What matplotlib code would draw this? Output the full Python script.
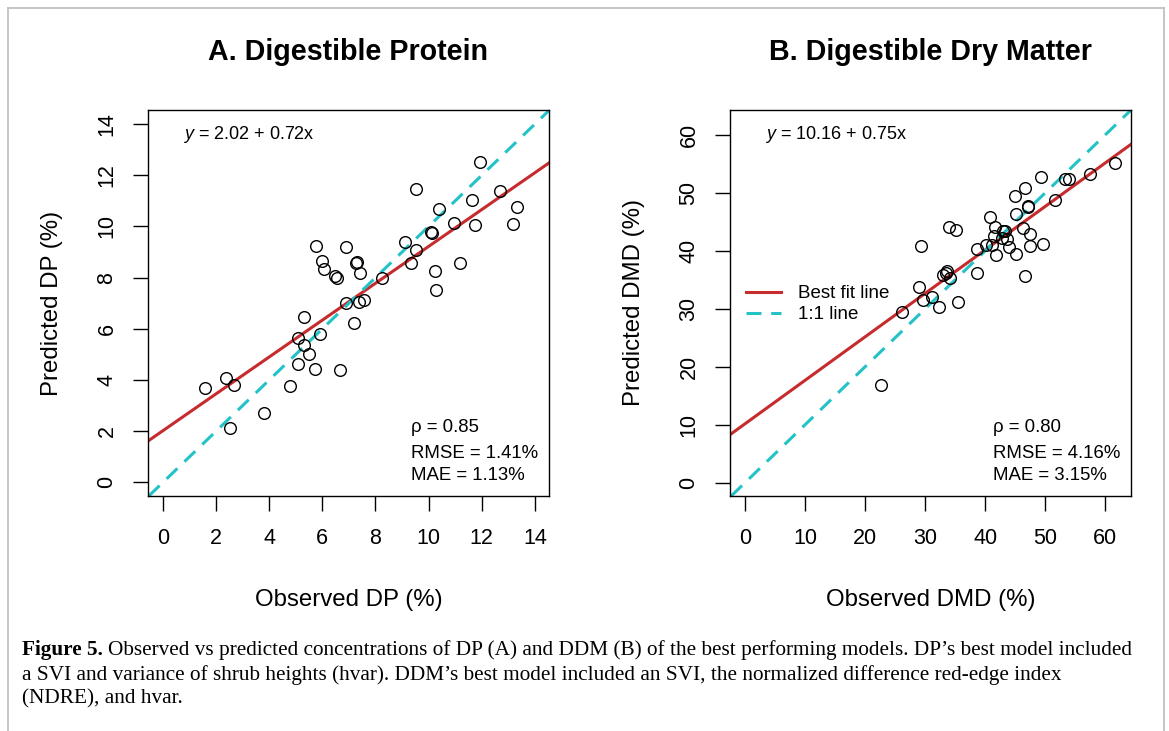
import matplotlib
matplotlib.use('Agg')
import matplotlib.pyplot as plt
from matplotlib.lines import Line2D

plt.rcParams['font.family'] = ['Liberation Sans', 'DejaVu Sans']
plt.rcParams['mathtext.fontset'] = 'custom'
plt.rcParams['mathtext.rm'] = 'Liberation Sans'
plt.rcParams['mathtext.it'] = 'Liberation Sans:italic'

# panel A - digestible protein (%)
dp_obs = [11.92, 9.54, 12.67, 11.63, 10.38, 13.34, 10.95, 11.76, 13.17, 10.10,
          10.13, 9.10, 9.51, 5.77, 6.90, 6.00, 7.30, 7.28, 6.06, 9.35,
          11.17, 6.49, 6.55, 7.40, 10.23, 8.26, 10.29, 6.88, 7.38, 7.57,
          7.19, 5.31, 5.08, 5.90, 5.31, 5.50, 5.09, 5.71, 6.65, 4.77,
          2.36, 2.67, 1.57, 3.80, 2.52]
dp_pred = [12.50, 11.47, 11.39, 11.04, 10.69, 10.77, 10.12, 10.05, 10.10, 9.80,
           9.74, 9.40, 9.09, 9.22, 9.19, 8.66, 8.63, 8.57, 8.33, 8.57,
           8.59, 8.05, 7.98, 8.18, 8.27, 7.98, 7.53, 7.01, 7.03, 7.14,
           6.21, 6.48, 5.64, 5.81, 5.38, 5.03, 4.64, 4.43, 4.39, 3.75,
           4.08, 3.80, 3.67, 2.73, 2.11]

# panel B - digestible dry matter (%)
dmd_obs = [61.7, 57.4, 53.3, 53.9, 49.3, 46.6, 45.0, 51.6, 47.2, 47.1,
           45.2, 40.8, 34.0, 35.1, 41.7, 46.3, 43.3, 41.5, 42.8, 47.4,
           43.7, 41.2, 40.1, 38.6, 43.9, 47.4, 49.6, 29.3, 41.8, 45.1,
           33.7, 32.9, 34.1, 38.7, 46.6, 28.9, 29.7, 31.1, 35.4, 32.3,
           26.1, 22.7, 33.5, 43.0]
dmd_pred = [55.1, 53.2, 52.4, 52.4, 52.7, 50.9, 49.4, 48.8, 47.8, 47.5,
            46.3, 45.8, 44.1, 43.6, 44.2, 43.9, 43.5, 42.5, 42.3, 42.9,
            42.1, 41.0, 41.0, 40.4, 40.7, 40.9, 41.2, 40.9, 39.3, 39.4,
            36.6, 35.8, 35.3, 36.1, 35.6, 33.8, 31.6, 32.0, 31.2, 30.3,
            29.5, 16.8, 36.1, 43.5]

titles = ['A. Digestible Protein', 'B. Digestible Dry Matter']
xlabels = ['Observed DP (%)', 'Observed DMD (%)']
ylabels = ['Predicted DP (%)', 'Predicted DMD (%)']
intercepts = [2.02, 10.16]
slopes = [0.72, 0.75]
rho = ['0.85', '0.80']
rmse = ['1.41', '4.16']
mae = ['1.13', '3.15']

red = '#c62b2d'
teal = '#22c2c7'
dash = (0, (4.9, 3.2))

fig = plt.figure(figsize=(11.69, 7.31), dpi=100)
axA = fig.add_axes([0.1266, 0.3215, 0.343, 0.528])
axB = fig.add_axes([0.6245, 0.3215, 0.343, 0.528])

panels = [(axA, dp_obs, dp_pred, (-0.56, 14.53), (-0.53, 14.55), range(0, 15, 2)),
          (axB, dmd_obs, dmd_pred, (-2.5, 64.3), (-2.3, 64.3), range(0, 61, 10))]

for i, (ax, xo, yp, xl, yl, ticks) in enumerate(panels):
    ax.axline((0, intercepts[i]), slope=slopes[i], color=red, lw=2.2, zorder=2)
    ax.axline((0, 0), slope=1, color=teal, lw=2.2, linestyle=dash, zorder=2)
    ax.plot(xo, yp, 'o', ms=8.4, mfc='none', mec='black', mew=1.0, zorder=3)
    ax.set_xlim(xl)
    ax.set_ylim(yl)
    ax.set_xticks(list(ticks))
    ax.set_yticks(list(ticks))
    ax.tick_params(direction='out', length=11, width=1.0, labelsize=15.5)
    ax.tick_params(axis='x', pad=12)
    ax.tick_params(axis='y', pad=11, labelrotation=90)
    for lab in ax.get_yticklabels():
        lab.set_va('center')
    for s in ax.spines.values():
        s.set_linewidth(1.0)
    ax.set_xlabel(xlabels[i], fontsize=17.3, va='center')
    ax.xaxis.set_label_coords(0.5, -0.269)
    ax.set_ylabel(ylabels[i], fontsize=17.3, va='center')
    ax.yaxis.set_label_coords(-0.239, 0.5)
    ax.set_title(titles[i], fontsize=20.6, fontweight='bold', y=1.1295, pad=0)

    ax.text(0.087, 0.925, r'$y$ = %.2f + %.2fx' % (intercepts[i], slopes[i]),
            transform=ax.transAxes, fontsize=13, va='baseline')
    ax.text(0.657, 0.1666, 'ρ = ' + rho[i], transform=ax.transAxes,
            fontsize=13.4, va='baseline')
    ax.text(0.657, 0.0992, 'RMSE = ' + rmse[i] + '%', transform=ax.transAxes,
            fontsize=13.4, va='baseline')
    ax.text(0.657, 0.0415, 'MAE = ' + mae[i] + '%', transform=ax.transAxes,
            fontsize=13.4, va='baseline')

handles = [Line2D([], [], color=red, lw=2.2),
           Line2D([], [], color=teal, lw=2.2, linestyle=dash)]
axB.legend(handles, ['Best fit line', '1:1 line'], loc='center left',
           bbox_to_anchor=(0.04, 0.497), frameon=False, fontsize=13.5,
           handlelength=1.85, handletextpad=0.9, labelspacing=0.2,
           borderpad=0, borderaxespad=0)

# page frame (open at the bottom)
for seg in [([8, 8], [0, 723]), ([8, 1164], [723, 723]), ([1164, 1164], [0, 723])]:
    fig.add_artist(Line2D([seg[0][0] / 1169, seg[0][1] / 1169],
                          [seg[1][0] / 731, seg[1][1] / 731],
                          color='#c0c0c0', lw=1.3))

# caption
cap_font = ['Liberation Serif', 'DejaVu Serif']
cap_size = 15.3
bold = fig.text(22 / 1169, 1 - 650 / 731, 'Figure 5.', family=cap_font,
                fontsize=cap_size, fontweight='bold', va='center')
r = fig.canvas.get_renderer()
bx = bold.get_window_extent(r)
fig.text((bx.x1 + 5) / 1169, 1 - 650 / 731,
         'Observed vs predicted concentrations of DP (A) and DDM (B) of the best '
         'performing models. DP\u2019s best model included',
         family=cap_font, fontsize=cap_size, va='center')
fig.text(22 / 1169, 1 - 675 / 731,
         'a SVI and variance of shrub heights (hvar). DDM\u2019s best model included '
         'an SVI, the normalized difference red-edge index',
         family=cap_font, fontsize=cap_size, va='center')
fig.text(22 / 1169, 1 - 699 / 731, '(NDRE), and hvar.',
         family=cap_font, fontsize=cap_size, va='center')

fig.savefig('out.png', dpi=100)
